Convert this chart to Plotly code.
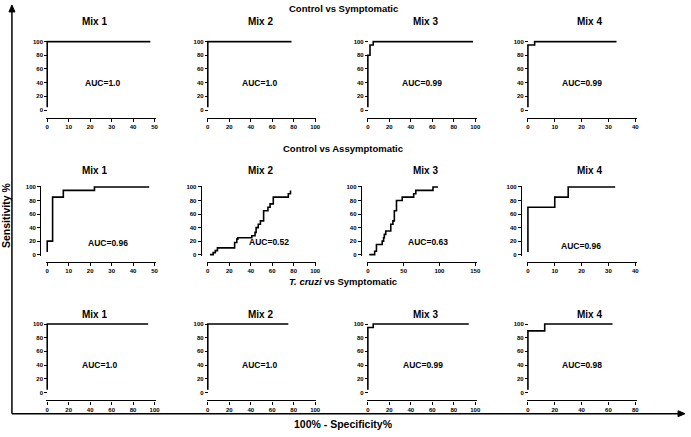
import plotly.graph_objects as go

W, H = 691, 437

# ---------------- data ----------------
section_titles = ["Control vs Symptomatic",
                  "Control vs Assymptomatic",
                  "<i>T. cruzi</i> vs Symptomatic"]
panel_titles = ["Mix 1", "Mix 2", "Mix 3", "Mix 4"]

# ROC curves: x = 100% - Specificity%, y = Sensitivity% (step curves)
r1m1_x = [0, 0, 48];            r1m1_y = [4, 100, 100]
r1m2_x = [0, 0, 78];            r1m2_y = [4, 100, 100]
r1m3_x = [0, 0, 2, 5, 98];      r1m3_y = [4, 80, 95, 100, 100]
r1m4_x = [0, 0, 2.5, 33];       r1m4_y = [4, 95, 100, 100]

r2m1_x = [0, 0, 2.5, 7.5, 22, 47.5]
r2m1_y = [4, 20, 85, 95, 100, 100]
r2m2_x = [2, 5, 7, 9, 25, 27, 28, 41, 44, 45, 47, 49, 52, 56, 58, 61, 75, 77]
r2m2_y = [0, 3, 6, 10, 18, 23, 25, 28, 33, 40, 45, 50, 65, 70, 75, 85, 90, 95]
r2m3_x = [2, 9.5, 12, 20, 22, 23, 25, 32, 35, 37, 40, 48, 64, 67, 91, 98]
r2m3_y = [0, 5, 15, 20, 25, 30, 35, 45, 50, 65, 80, 85, 90, 95, 100, 100]
r2m4_x = [0, 0, 10, 15, 32.5]
r2m4_y = [4, 70, 85, 100, 100]

r3m1_x = [0, 0, 94];            r3m1_y = [4, 100, 100]
r3m2_x = [0, 0, 75];            r3m2_y = [4, 100, 100]
r3m3_x = [0, 0, 5, 94];         r3m3_y = [4, 95, 100, 100]
r3m4_x = [0, 0, 12.5, 63];      r3m4_y = [4, 90, 100, 100]

auc_labels = [["AUC=1.0", "AUC=1.0", "AUC=0.99", "AUC=0.99"],
              ["AUC=0.96", "AUC=0.52", "AUC=0.63", "AUC=0.96"],
              ["AUC=1.0", "AUC=1.0", "AUC=0.99", "AUC=0.98"]]

x_max = [[50, 100, 100, 40],
         [50, 100, 150, 40],
         [100, 100, 100, 80]]
x_dtick = [[10, 20, 20, 10],
           [10, 20, 50, 10],
           [20, 20, 20, 20]]
y_ticks = [0, 20, 40, 60, 80, 100]

curves = [[(r1m1_x, r1m1_y), (r1m2_x, r1m2_y), (r1m3_x, r1m3_y), (r1m4_x, r1m4_y)],
          [(r2m1_x, r2m1_y), (r2m2_x, r2m2_y), (r2m3_x, r2m3_y), (r2m4_x, r2m4_y)],
          [(r3m1_x, r3m1_y), (r3m2_x, r3m2_y), (r3m3_x, r3m3_y), (r3m4_x, r3m4_y)]]

# ---------------- layout geometry (pixels) ----------------
col_x0 = [47.5, 209, 370, 531]
panel_w = 108
row_y0 = [109, 255, 394]        # pixel of y=0
row_y100 = [40, 186.7, 325]     # pixel of y=100
xaxis_line_y = [117, 262, 402]
yaxis_offset = [0, 7, 0]
yaxis_show_line = [False, True, False]
title_x = [95, 262, 428, 593]
title_y = [20, 170, 315]
section_y = [7, 148, 282]
auc_pos = [[(25.7, 39), (48, 39), (50, 39), (20, 39)],
           [(28.3, 17.6), (56.6, 18), (83.6, 18), (19.7, 13)],
           [(49, 40), (48, 40), (51, 40), (40, 40)]]

def px(x):
    return x / W

def py(y):
    return 1 - y / H

FONT = "Liberation Sans, Arial, sans-serif"
fig = go.Figure()
layout = {}
annotations = []

for r in range(3):
    for c in range(4):
        k = r * 4 + c + 1
        xs, ys = curves[r][c]
        xm = x_max[r][c]
        xpad = 0.012 * xm
        scale_x = panel_w / xm
        x0p = col_x0[c] - xpad * scale_x
        x1p = col_x0[c] + panel_w + xpad * scale_x
        ys_scale = (row_y0[r] - row_y100[r]) / 100.0
        ypad = 2
        ybot = row_y0[r] + ypad * ys_scale
        ytop = row_y100[r] - ypad * ys_scale
        xname = "xaxis" if k == 1 else f"xaxis{k}"
        yname = "yaxis" if k == 1 else f"yaxis{k}"
        xref = "x" if k == 1 else f"x{k}"
        yref = "y" if k == 1 else f"y{k}"
        fig.add_trace(go.Scatter(x=xs, y=ys, mode="lines", line_shape="hv",
                                 line=dict(color="black", width=1.6),
                                 xaxis=xref, yaxis=yref, showlegend=False,
                                 hoverinfo="skip"))
        layout[xname] = dict(domain=[px(x0p), px(x1p)], range=[-xpad, xm + xpad],
                             anchor="free", position=py(xaxis_line_y[r]),
                             showgrid=False, zeroline=False, showline=True,
                             linecolor="black", linewidth=1.4,
                             ticks="outside", ticklen=3, tickwidth=1.2,
                             tickcolor="black", tick0=0, dtick=x_dtick[r][c],
                             tickfont=dict(family=FONT, size=6, color="black",
                                           weight="bold"))
        layout[yname] = dict(domain=[py(ybot), py(ytop)], range=[-ypad, 100 + ypad],
                             anchor="free", position=px(col_x0[c] - yaxis_offset[r]),
                             showgrid=False, zeroline=False,
                             showline=yaxis_show_line[r],
                             linecolor="black", linewidth=1.4,
                             ticks="outside", ticklen=3, tickwidth=1.2,
                             tickcolor="black", tickvals=y_ticks,
                             tickfont=dict(family=FONT, size=6, color="black",
                                           weight="bold"))
        ax, ay = auc_pos[r][c]
        annotations.append(dict(x=ax, y=ay, xref=xref, yref=yref,
                                text=f"<b>{auc_labels[r][c]}</b>", showarrow=False,
                                font=dict(family=FONT, size=8.5, color="black")))
        annotations.append(dict(x=px(title_x[c]), y=py(title_y[r]), xref="paper",
                                yref="paper", text=f"<b>{panel_titles[c]}</b>",
                                showarrow=False, xanchor="center", yanchor="middle",
                                font=dict(family=FONT, size=10, color="black")))
    annotations.append(dict(x=px(345), y=py(section_y[r]), xref="paper", yref="paper",
                            text=f"<b>{section_titles[r]}</b>", showarrow=False,
                            xanchor="center", yanchor="middle",
                            font=dict(family=FONT, size=9.5, color="black")))

annotations.append(dict(x=px(6), y=py(215), xref="paper", yref="paper",
                        text="<b>Sensitivity %</b>", textangle=-90, showarrow=False,
                        xanchor="center", yanchor="middle",
                        font=dict(family=FONT, size=10.5, color="black")))
annotations.append(dict(x=px(345), y=py(426), xref="paper", yref="paper",
                        text="<b>100% - Specificity%</b>", showarrow=False,
                        xanchor="center", yanchor="middle",
                        font=dict(family=FONT, size=10.5, color="black")))

shapes = [
    dict(type="line", xref="paper", yref="paper", x0=px(12), y0=py(415.5),
         x1=px(12), y1=py(8), line=dict(color="black", width=1.5)),
    dict(type="line", xref="paper", yref="paper", x0=px(12), y0=py(415.5),
         x1=px(684), y1=py(415.5), line=dict(color="black", width=1.5)),
    dict(type="path", xref="paper", yref="paper", fillcolor="black",
         line=dict(color="black", width=1),
         path=f"M {px(9)} {py(10)} L {px(12)} {py(3)} L {px(15)} {py(10)} Z"),
    dict(type="path", xref="paper", yref="paper", fillcolor="black",
         line=dict(color="black", width=1),
         path=f"M {px(682)} {py(412.5)} L {px(689)} {py(415.5)} L {px(682)} {py(418.5)} Z"),
]

fig.update_layout(width=W, height=H, margin=dict(l=0, r=0, t=0, b=0),
                  paper_bgcolor="white", plot_bgcolor="white",
                  annotations=annotations, shapes=shapes, **layout)
fig.write_html("out.html", config={"displayModeBar": False},
               post_script="document.body.style.margin='0';document.body.style.padding='0';")
